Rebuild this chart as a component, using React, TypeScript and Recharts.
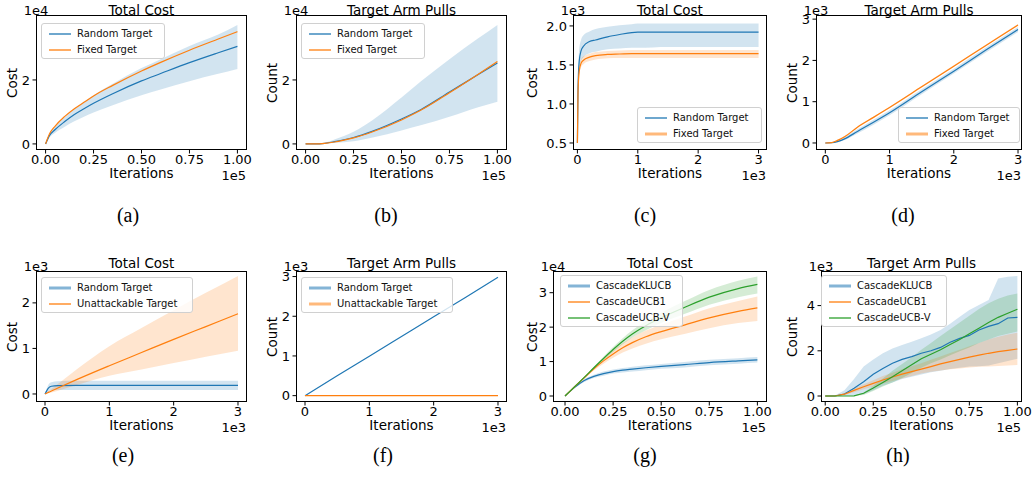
import { ComposedChart, Line, Area, XAxis, YAxis } from "recharts";

const FONT = "'DejaVu Sans', sans-serif";
const BLUE = "#1f77b4";
const ORANGE = "#ff7f0e";
const GREEN = "#2ca02c";

// (a) total cost, 1e5 iterations, values in 1e4
const aX = [0, 0.02, 0.05, 0.1, 0.15, 0.2, 0.25, 0.35, 0.5, 0.6, 0.75, 0.9, 1.0];
const aRandom = [0, 0.26, 0.45, 0.7, 0.92, 1.1, 1.27, 1.57, 1.97, 2.2, 2.54, 2.85, 3.05];
const aRandomLo = [0, 0.2, 0.35, 0.54, 0.71, 0.85, 0.98, 1.21, 1.52, 1.7, 1.96, 2.19, 2.34];
const aRandomHi = [0, 0.31, 0.54, 0.84, 1.1, 1.32, 1.52, 1.88, 2.37, 2.65, 3.06, 3.42, 3.72];
const aFixed = [0, 0.31, 0.56, 0.86, 1.1, 1.3, 1.5, 1.83, 2.28, 2.55, 2.93, 3.28, 3.51];

// (b) target arm pulls, values in 1e4
const bX = aX;
const bRandom = [0, 0, 0, 0.02, 0.07, 0.13, 0.2, 0.4, 0.78, 1.07, 1.62, 2.17, 2.53];
const bRandomLo = [0, 0, 0, 0.01, 0.03, 0.05, 0.08, 0.2, 0.42, 0.58, 0.85, 1.15, 1.32];
const bRandomHi = [0, 0, 0.01, 0.04, 0.14, 0.25, 0.38, 0.75, 1.45, 1.95, 2.65, 3.3, 3.72];
const bFixed = [0, 0, 0, 0.02, 0.06, 0.12, 0.19, 0.38, 0.75, 1.05, 1.6, 2.18, 2.58];

// (c) total cost, 3e3 iterations, values in 1e3
const cX = [0, 0.01, 0.03, 0.06, 0.1, 0.2, 0.3, 0.5, 0.7, 0.9, 1.0, 1.5, 2.0, 2.5, 3.0];
const cRandom = [0.5, 1.2, 1.55, 1.68, 1.74, 1.8, 1.82, 1.86, 1.89, 1.915, 1.92, 1.92, 1.92, 1.92, 1.92];
const cRandomLo = [0.5, 1.1, 1.42, 1.55, 1.6, 1.65, 1.67, 1.7, 1.71, 1.72, 1.72, 1.73, 1.73, 1.73, 1.73];
const cRandomHi = [0.5, 1.3, 1.7, 1.82, 1.88, 1.93, 1.96, 1.99, 2.01, 2.02, 2.03, 2.03, 2.03, 2.03, 2.03];
const cFixed = [0.5, 1.15, 1.42, 1.52, 1.56, 1.6, 1.62, 1.635, 1.64, 1.645, 1.645, 1.645, 1.645, 1.645, 1.645];
const cFixedLo = [0.5, 1.1, 1.37, 1.47, 1.51, 1.55, 1.57, 1.585, 1.59, 1.59, 1.59, 1.59, 1.59, 1.59, 1.59];
const cFixedHi = [0.5, 1.2, 1.47, 1.57, 1.61, 1.645, 1.665, 1.68, 1.685, 1.69, 1.69, 1.69, 1.69, 1.69, 1.69];

// (d) target arm pulls, values in 1e3
const dX = [0, 0.1, 0.2, 0.3, 0.5, 0.75, 1, 1.5, 2, 2.5, 3];
const dRandom = [0, 0.005, 0.04, 0.1, 0.28, 0.5, 0.73, 1.24, 1.74, 2.25, 2.75];
const dRandomLo = [0, 0, 0.02, 0.07, 0.23, 0.44, 0.67, 1.18, 1.68, 2.19, 2.69];
const dRandomHi = [0, 0.01, 0.06, 0.14, 0.33, 0.56, 0.79, 1.3, 1.8, 2.31, 2.81];
const dFixed = [0, 0.01, 0.07, 0.15, 0.38, 0.62, 0.86, 1.36, 1.86, 2.36, 2.86];
const dFixedLo = [0, 0, 0.05, 0.13, 0.36, 0.6, 0.84, 1.34, 1.84, 2.34, 2.84];
const dFixedHi = [0, 0.02, 0.09, 0.17, 0.4, 0.64, 0.88, 1.38, 1.88, 2.38, 2.88];

// (e) total cost vs unattackable target, values in 1e3
const eX = [0, 0.03, 0.06, 0.1, 0.2, 0.5, 1, 1.5, 2, 2.5, 3];
const eRandom = [0, 0.08, 0.14, 0.17, 0.185, 0.19, 0.19, 0.19, 0.19, 0.19, 0.19];
const eRandomLo = [0, 0.03, 0.06, 0.08, 0.09, 0.09, 0.09, 0.09, 0.09, 0.09, 0.09];
const eRandomHi = [0, 0.13, 0.22, 0.26, 0.28, 0.29, 0.29, 0.29, 0.29, 0.29, 0.29];
const eUnatt = [0, 0.02, 0.04, 0.065, 0.13, 0.32, 0.62, 0.91, 1.2, 1.48, 1.76];
const eUnattLo = [0, 0.01, 0.02, 0.03, 0.07, 0.2, 0.4, 0.54, 0.68, 0.82, 0.95];
const eUnattHi = [0, 0.04, 0.07, 0.11, 0.22, 0.55, 1.05, 1.45, 1.84, 2.22, 2.59];

// (f) target arm pulls vs unattackable target, values in 1e3
const fX = [0, 0.5, 1, 1.5, 2, 2.5, 3];
const fRandom = [0, 0.5, 0.99, 1.49, 1.99, 2.48, 2.98];
const fUnatt = [0, 0, 0, 0, 0, 0, 0];

// (g) total cost per algorithm, values in 1e4
const gX = [0, 0.05, 0.1, 0.15, 0.2, 0.25, 0.3, 0.35, 0.42, 0.5, 0.62, 0.75, 0.9, 1.0];
const gKl = [0, 0.25, 0.45, 0.57, 0.65, 0.71, 0.75, 0.78, 0.82, 0.86, 0.91, 0.97, 1.02, 1.05];
const gKlLo = [0, 0.23, 0.41, 0.52, 0.59, 0.65, 0.68, 0.71, 0.75, 0.79, 0.83, 0.89, 0.94, 0.97];
const gKlHi = [0, 0.27, 0.49, 0.62, 0.71, 0.77, 0.81, 0.85, 0.89, 0.93, 0.99, 1.05, 1.1, 1.13];
const gUcb1 = [0, 0.27, 0.53, 0.79, 1.02, 1.22, 1.4, 1.55, 1.72, 1.87, 2.06, 2.27, 2.46, 2.56];
const gUcb1Lo = [0, 0.26, 0.5, 0.74, 0.94, 1.11, 1.26, 1.38, 1.52, 1.65, 1.8, 1.97, 2.12, 2.18];
const gUcb1Hi = [0, 0.28, 0.56, 0.84, 1.1, 1.32, 1.53, 1.7, 1.9, 2.07, 2.3, 2.55, 2.76, 2.89];
const gUcbV = [0, 0.27, 0.54, 0.82, 1.09, 1.35, 1.59, 1.8, 2.04, 2.27, 2.57, 2.87, 3.12, 3.24];
const gUcbVLo = [0, 0.26, 0.52, 0.79, 1.04, 1.28, 1.5, 1.7, 1.91, 2.12, 2.38, 2.65, 2.87, 2.98];
const gUcbVHi = [0, 0.28, 0.56, 0.85, 1.14, 1.42, 1.68, 1.91, 2.17, 2.42, 2.75, 3.08, 3.35, 3.47];

// (h) target arm pulls per algorithm, values in 1e3
const hX = [0, 0.05, 0.1, 0.15, 0.2, 0.25, 0.3, 0.35, 0.4, 0.45, 0.5, 0.55, 0.6, 0.65, 0.7, 0.75, 0.8, 0.85, 0.9, 0.95, 1.0];
const hKl = [0, 0, 0.09, 0.34, 0.63, 0.96, 1.22, 1.45, 1.62, 1.74, 1.89, 2.0, 2.15, 2.38, 2.55, 2.68, 2.92, 3.08, 3.2, 3.45, 3.48];
const hKlLo = [0, 0, 0, 0.02, 0.08, 0.25, 0.45, 0.6, 0.75, 0.85, 0.95, 1.05, 1.12, 1.2, 1.25, 1.3, 1.32, 1.35, 1.45, 1.55, 1.65];
const hKlHi = [0, 0.02, 0.25, 0.75, 1.3, 1.62, 1.89, 2.1, 2.26, 2.4, 2.55, 2.72, 2.92, 3.2, 3.51, 3.8, 4.03, 4.25, 5.2, 5.28, 5.31];
const hUcb1 = [0, 0, 0.08, 0.25, 0.41, 0.56, 0.71, 0.84, 0.97, 1.08, 1.19, 1.3, 1.42, 1.52, 1.62, 1.72, 1.81, 1.89, 1.96, 2.02, 2.08];
const hUcb1Lo = [0, 0, 0.04, 0.17, 0.3, 0.42, 0.55, 0.66, 0.77, 0.88, 1.0, 1.07, 1.13, 1.18, 1.22, 1.26, 1.29, 1.31, 1.33, 1.35, 1.37];
const hUcb1Hi = [0, 0, 0.12, 0.33, 0.52, 0.7, 0.88, 1.03, 1.18, 1.32, 1.45, 1.6, 1.75, 1.9, 2.05, 2.2, 2.35, 2.5, 2.62, 2.72, 2.8];
const hUcbV = [0, 0, 0, 0.01, 0.12, 0.35, 0.6, 0.85, 1.12, 1.38, 1.65, 1.85, 2.05, 2.28, 2.5, 2.75, 3.0, 3.25, 3.48, 3.66, 3.84];
const hUcbVLo = [0, 0, 0, 0, 0.05, 0.22, 0.42, 0.6, 0.8, 1.02, 1.25, 1.45, 1.62, 1.8, 1.98, 2.15, 2.35, 2.5, 2.65, 2.75, 2.85];
const hUcbVHi = [0, 0, 0, 0.02, 0.15, 0.45, 0.78, 1.12, 1.42, 1.72, 2.05, 2.35, 2.65, 2.95, 3.25, 3.55, 3.85, 4.1, 4.3, 4.45, 4.54];

const fracTicks = [0, 0.25, 0.5, 0.75, 1];
const intTicks = [0, 1, 2, 3];
const fmt2 = (v: number) => v.toFixed(2);
const fmt1 = (v: number) => v.toFixed(1);
const fmt0 = (v: number) => String(v);

type Series = { name: string; color: string; mean: number[]; lo?: number[]; hi?: number[]; thick?: boolean };

type PanelProps = {
  left: number;
  top: number;
  width: number;
  height: number;
  x: number[];
  series: Series[];
  xDomain: [number, number];
  yDomain: [number, number];
  xTicks: number[];
  yTicks: number[];
  xFmt: (v: number) => string;
  yFmt: (v: number) => string;
  title: string;
  titleTop: number;
  yLabel: string;
  xOffset: string;
  yOffset: string;
  yLabelX: number;
  legend: { left: number; top: number; width: number };
  caption: { x: number; y: number; text: string };
  curve?: "monotone" | "linear";
};

const textStyle = { position: "absolute", fontFamily: FONT, color: "#000", whiteSpace: "nowrap", lineHeight: 1 } as const;

function Panel(p: PanelProps) {
  const rows = p.x.map((xv, i) => {
    const r: Record<string, any> = { x: xv };
    p.series.forEach((s, k) => {
      r["m" + k] = s.mean[i];
      if (s.lo && s.hi) r["b" + k] = [s.lo[i], s.hi[i]];
    });
    return r;
  });
  const curve = p.curve ?? "monotone";
  const cx = p.left + p.width / 2;
  const bottom = p.top + p.height;
  return (
    <>
      <div style={{ position: "absolute", left: p.left - 40, top: p.top - 20 }}>
        <ComposedChart width={p.width + 50} height={p.height + 50} data={rows} margin={{ top: 20, right: 10, bottom: 0, left: 0 }}>
          <XAxis
            dataKey="x"
            type="number"
            domain={p.xDomain}
            allowDataOverflow
            ticks={p.xTicks}
            interval={0}
            tickFormatter={p.xFmt}
            height={30}
            axisLine={false}
            tickLine={{ stroke: "#000" }}
            tickSize={3.5}
            tickMargin={1}
            tick={{ fontSize: 13, fill: "#000", fontFamily: FONT }}
          />
          <YAxis
            type="number"
            domain={p.yDomain}
            allowDataOverflow
            ticks={p.yTicks}
            interval={0}
            tickFormatter={p.yFmt}
            width={40}
            axisLine={false}
            tickLine={{ stroke: "#000" }}
            tickSize={3.5}
            tickMargin={2.5}
            tick={{ fontSize: 13, fill: "#000", fontFamily: FONT }}
          />
          {p.series.map((s, k) =>
            s.lo ? (
              <Area key={"b" + k} dataKey={"b" + k} type={curve} stroke="none" fill={s.color} fillOpacity={0.2} isAnimationActive={false} />
            ) : null
          )}
          {p.series.map((s, k) => (
            <Line key={"m" + k} dataKey={"m" + k} type={curve} stroke={s.color} strokeWidth={1.2} dot={false} isAnimationActive={false} />
          ))}
        </ComposedChart>
      </div>
      <div style={{ position: "absolute", left: p.left, top: p.top, width: p.width, height: p.height, border: "1px solid #000", boxSizing: "border-box", pointerEvents: "none" }} />
      <div style={{ ...textStyle, fontSize: 13.5, left: cx, top: p.titleTop, transform: "translateX(-50%)" }}>{p.title}</div>
      <div style={{ ...textStyle, fontSize: 13, left: p.left, top: p.top - 5, transform: "translate(-50%, -50%)" }}>{p.yOffset}</div>
      <div style={{ ...textStyle, fontSize: 13.5, left: cx, top: bottom + 24, transform: "translate(-50%, -50%)" }}>Iterations</div>
      <div style={{ ...textStyle, fontSize: 13, left: p.left + p.width - 1, top: bottom + 25, transform: "translate(-100%, -50%)" }}>{p.xOffset}</div>
      <div style={{ ...textStyle, fontSize: 13.5, left: p.yLabelX, top: p.top + p.height / 2, transform: "translate(-50%, -50%) rotate(-90deg)" }}>{p.yLabel}</div>
      <div
        style={{
          position: "absolute",
          left: p.legend.left,
          top: p.legend.top,
          width: p.legend.width,
          height: 20 + 16 * (p.series.length - 1),
          border: "1px solid #d0d0d0",
          borderRadius: 3,
          background: "rgba(255,255,255,0.8)",
          boxSizing: "border-box",
        }}
      >
        {p.series.map((s, k) => (
          <div key={k} style={{ position: "absolute", left: 0, top: 2 + 16 * k, height: 16, width: "100%" }}>
            <svg width={26} height={16} style={{ position: "absolute", left: 7, top: 0 }}>
              {s.thick ? (
                <line x1={0} y1={8} x2={22} y2={8} stroke={s.color} strokeOpacity={0.55} strokeWidth={3} />
              ) : (
                <line x1={0} y1={8} x2={22} y2={8} stroke={s.color} strokeWidth={1.3} />
              )}
            </svg>
            <span style={{ ...textStyle, position: "absolute", left: 35, top: 0, fontSize: 10, lineHeight: "16px", color: "#111" }}>{s.name}</span>
          </div>
        ))}
      </div>
      <div style={{ ...textStyle, fontFamily: "'Liberation Serif', serif", fontSize: 20, left: p.caption.x, top: p.caption.y, transform: "translate(-50%, -50%)" }}>
        {p.caption.text}
      </div>
    </>
  );
}

export default function App() {
  return (
    <div style={{ position: "absolute", left: 0, top: 0, width: 1034, height: 477, background: "#fff", overflow: "hidden" }}>
      <Panel
        left={36} top={15} width={211} height={135}
        x={aX}
        series={[
          { name: "Random Target", color: BLUE, mean: aRandom, lo: aRandomLo, hi: aRandomHi },
          { name: "Fixed Target", color: ORANGE, mean: aFixed },
        ]}
        xDomain={[-0.05, 1.05]} yDomain={[-0.19, 4.03]}
        xTicks={fracTicks} yTicks={[0, 2]} xFmt={fmt2} yFmt={fmt0}
        title="Total Cost" titleTop={3.5} yLabel="Cost" xOffset="1e5" yOffset="1e4" yLabelX={13}
        legend={{ left: 41, top: 23, width: 124 }}
        caption={{ x: 128, y: 215, text: "(a)" }}
      />
      <Panel
        left={296} top={15} width={211} height={135}
        x={bX}
        series={[
          { name: "Random Target", color: BLUE, mean: bRandom, lo: bRandomLo, hi: bRandomHi },
          { name: "Fixed Target", color: ORANGE, mean: bFixed },
        ]}
        xDomain={[-0.05, 1.05]} yDomain={[-0.19, 4.03]}
        xTicks={fracTicks} yTicks={[0, 2]} xFmt={fmt2} yFmt={fmt0}
        title="Target Arm Pulls" titleTop={3.5} yLabel="Count" xOffset="1e5" yOffset="1e4" yLabelX={273}
        legend={{ left: 301, top: 23, width: 124 }}
        caption={{ x: 386, y: 215, text: "(b)" }}
      />
      <Panel
        left={573} top={15} width={194} height={135}
        x={cX}
        series={[
          { name: "Random Target", color: BLUE, mean: cRandom, lo: cRandomLo, hi: cRandomHi },
          { name: "Fixed Target", color: ORANGE, mean: cFixed, lo: cFixedLo, hi: cFixedHi, thick: true },
        ]}
        xDomain={[-0.073, 3.14]} yDomain={[0.41, 2.14]}
        xTicks={intTicks} yTicks={[0.5, 1.0, 1.5, 2.0]} xFmt={fmt0} yFmt={fmt1}
        title="Total Cost" titleTop={3.5} yLabel="Cost" xOffset="1e3" yOffset="1e3" yLabelX={533}
        legend={{ left: 637, top: 107, width: 125 }}
        caption={{ x: 645, y: 215, text: "(c)" }}
      />
      <Panel
        left={816} top={15} width={206} height={135}
        x={dX}
        series={[
          { name: "Random Target", color: BLUE, mean: dRandom, lo: dRandomLo, hi: dRandomHi },
          { name: "Fixed Target", color: ORANGE, mean: dFixed, lo: dFixedLo, hi: dFixedHi, thick: true },
        ]}
        xDomain={[-0.145, 3.062]} yDomain={[-0.17, 3.1]}
        xTicks={intTicks} yTicks={intTicks} xFmt={fmt0} yFmt={fmt0}
        title="Target Arm Pulls" titleTop={3.5} yLabel="Count" xOffset="1e3" yOffset="1e3" yLabelX={793}
        legend={{ left: 898, top: 107, width: 122 }}
        caption={{ x: 903, y: 215, text: "(d)" }}
      />
      <Panel
        left={36} top={271} width={211} height={131}
        x={eX}
        series={[
          { name: "Random Target", color: BLUE, mean: eRandom, lo: eRandomLo, hi: eRandomHi, thick: true },
          { name: "Unattackable Target", color: ORANGE, mean: eUnatt, lo: eUnattLo, hi: eUnattHi },
        ]}
        xDomain={[-0.14, 3.14]} yDomain={[-0.176, 2.7]}
        xTicks={intTicks} yTicks={[0, 1, 2]} xFmt={fmt0} yFmt={fmt0}
        title="Total Cost" titleTop={256.5} yLabel="Cost" xOffset="1e3" yOffset="1e3" yLabelX={13}
        legend={{ left: 41, top: 277, width: 152 }}
        caption={{ x: 123, y: 455, text: "(e)" }}
      />
      <Panel
        left={296} top={271} width={211} height={131}
        x={fX}
        series={[
          { name: "Random Target", color: BLUE, mean: fRandom, thick: true },
          { name: "Unattackable Target", color: ORANGE, mean: fUnatt, thick: true },
        ]}
        xDomain={[-0.14, 3.14]} yDomain={[-0.16, 3.14]}
        xTicks={intTicks} yTicks={intTicks} xFmt={fmt0} yFmt={fmt0}
        title="Target Arm Pulls" titleTop={256.5} yLabel="Count" xOffset="1e3" yOffset="1e3" yLabelX={273}
        legend={{ left: 301, top: 277, width: 152 }}
        caption={{ x: 383, y: 455, text: "(f)" }}
      />
      <Panel
        left={553} top={271} width={214} height={131}
        x={gX}
        series={[
          { name: "CascadeKLUCB", color: BLUE, mean: gKl, lo: gKlLo, hi: gKlHi, thick: true },
          { name: "CascadeUCB1", color: ORANGE, mean: gUcb1, lo: gUcb1Lo, hi: gUcb1Hi },
          { name: "CascadeUCB-V", color: GREEN, mean: gUcbV, lo: gUcbVLo, hi: gUcbVHi },
        ]}
        xDomain={[-0.0625, 1.05]} yDomain={[-0.174, 3.63]}
        xTicks={fracTicks} yTicks={intTicks} xFmt={fmt2} yFmt={fmt0}
        title="Total Cost" titleTop={256.5} yLabel="Cost" xOffset="1e5" yOffset="1e4" yLabelX={533}
        legend={{ left: 560, top: 275, width: 123 }}
        caption={{ x: 645, y: 455, text: "(g)" }}
      />
      <Panel
        left={821} top={271} width={201} height={131}
        x={hX}
        series={[
          { name: "CascadeKLUCB", color: BLUE, mean: hKl, lo: hKlLo, hi: hKlHi, thick: true },
          { name: "CascadeUCB1", color: ORANGE, mean: hUcb1, lo: hUcb1Lo, hi: hUcb1Hi },
          { name: "CascadeUCB-V", color: GREEN, mean: hUcbV, lo: hUcbVLo, hi: hUcbVHi },
        ]}
        xDomain={[-0.022, 1.024]} yDomain={[-0.265, 5.53]}
        xTicks={fracTicks} yTicks={[0, 2, 4]} xFmt={fmt2} yFmt={fmt0}
        title="Target Arm Pulls" titleTop={256.5} yLabel="Count" xOffset="1e5" yOffset="1e3" yLabelX={793}
        legend={{ left: 821, top: 275, width: 126 }}
        caption={{ x: 898, y: 455, text: "(h)" }}
        curve="linear"
      />
    </div>
  );
}
